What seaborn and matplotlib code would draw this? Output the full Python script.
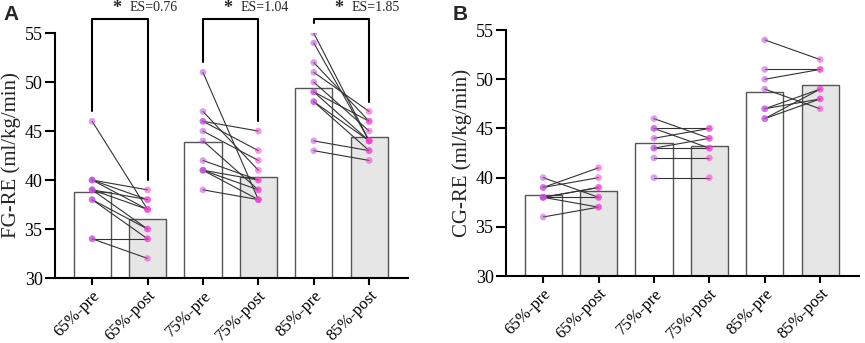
import numpy as np
import pandas as pd
import matplotlib
matplotlib.use('Agg')
import matplotlib.pyplot as plt
import seaborn as sns

sns.set_theme(style='ticks')
plt.rcParams['font.family'] = ['Liberation Serif', 'DejaVu Serif']

CONDITIONS = ['65%-pre', '65%-post', '75%-pre', '75%-post', '85%-pre', '85%-post']

# FG group: running economy per participant (pre / post), paired by position
fg_65_pre = [46, 40, 40, 40, 39, 39, 39, 38, 38, 34, 34]
fg_65_post = [37, 38, 37, 39, 38, 37, 35, 35, 34, 34, 32]
fg_75_pre = [51, 47, 46, 46, 45, 44, 42, 41, 41, 41, 39]
fg_75_post = [38, 41, 45, 43, 42, 39, 40, 38, 40, 39, 38]
fg_85_pre = [55, 54, 52, 51, 50, 49, 49, 48, 48, 44, 43]
fg_85_post = [44, 44, 46, 47, 45, 46, 44, 44, 43, 43, 42]
fg_es = ['0.76', '1.04', '1.85']

# CG group
cg_65_pre = [40, 39, 39, 38, 38, 38, 38, 36]
cg_65_post = [38, 41, 40, 39, 37, 39, 38, 37]
cg_75_pre = [46, 45, 45, 44, 43, 43, 42, 40]
cg_75_post = [44, 45, 43, 45, 44, 43, 42, 40]
cg_85_pre = [54, 51, 50, 49, 47, 47, 46, 46]
cg_85_post = [52, 51, 51, 47, 49, 48, 49, 48]

BAR_FILL = {c: ('white' if c.endswith('pre') else '#e6e6e6') for c in CONDITIONS}
POINT_COL = {c: ('#c24fdc' if c.endswith('pre') else '#f43fd2') for c in CONDITIONS}


def draw_panel(ax, pairs, ylabel, es=None):
    rows = []
    for k, (pre, post) in enumerate(pairs):
        rows += [(CONDITIONS[2 * k], v) for v in pre]
        rows += [(CONDITIONS[2 * k + 1], v) for v in post]
    df = pd.DataFrame(rows, columns=['cond', 'value'])

    sns.barplot(data=df, x='cond', y='value', order=CONDITIONS, hue='cond',
                hue_order=CONDITIONS, palette=BAR_FILL, errorbar=None,
                width=0.67, edgecolor='#555555', linewidth=1.0, legend=False, ax=ax)

    # paired lines
    for k, (pre, post) in enumerate(pairs):
        for a, b in zip(pre, post):
            ax.plot([2 * k, 2 * k + 1], [a, b], color='#333333', lw=0.8, zorder=3)

    sns.stripplot(data=df, x='cond', y='value', order=CONDITIONS, hue='cond',
                  hue_order=CONDITIONS, palette=POINT_COL, jitter=False, size=4.8,
                  alpha=0.55, linewidth=0, legend=False, zorder=4, ax=ax)

    ax.set_xlim(-0.67, 5.7)
    ax.set_ylim(30, 55)
    ax.set_yticks([30, 35, 40, 45, 50, 55])
    ax.set_xticks(range(len(CONDITIONS)))
    ax.set_xticklabels(CONDITIONS, rotation=45, ha='right', rotation_mode='anchor')
    ax.tick_params(axis='y', labelsize=13, width=1.5, length=7, colors='black', pad=2)
    ax.tick_params(axis='x', labelsize=12, width=1.5, length=5, colors='black', pad=2)
    ax.set_xlabel('')
    ax.set_ylabel(ylabel, fontsize=15)
    ax.yaxis.set_label_coords(-0.095, 0.5)
    sns.despine(ax=ax)
    for side in ['left', 'bottom']:
        ax.spines[side].set_linewidth(1.5)
        ax.spines[side].set_color('black')

    if es is not None:
        top = 56.4
        for k, (pre, post) in enumerate(pairs):
            x0, x1 = 2 * k, 2 * k + 1
            ax.plot([x0, x0, x1, x1], [max(pre) + 1, top, top, max(post) + 1],
                    color='black', lw=1.5, clip_on=False)
            ax.text(x0 + 0.45, top + 0.25, '*', ha='center', va='bottom',
                    fontsize=13, fontweight='bold', clip_on=False)
            ax.text(x0 + 0.68, top + 0.5, f'ES={es[k]}', ha='left', va='bottom',
                    fontsize=10, clip_on=False)


fig = plt.figure(figsize=(8.65, 3.43), dpi=100)
ax_a = fig.add_axes([0.0636, 0.1895, 0.408, 0.714])
ax_b = fig.add_axes([0.585, 0.1953, 0.408, 0.717])

draw_panel(ax_a, [(fg_65_pre, fg_65_post), (fg_75_pre, fg_75_post), (fg_85_pre, fg_85_post)],
           'FG-RE (ml/kg/min)', es=fg_es)
draw_panel(ax_b, [(cg_65_pre, cg_65_post), (cg_75_pre, cg_75_post), (cg_85_pre, cg_85_post)],
           'CG-RE (ml/kg/min)')

fig.text(0.004, 0.985, 'A', fontsize=15, fontweight='bold', family='Liberation Sans', va='top')
fig.text(0.523, 0.985, 'B', fontsize=15, fontweight='bold', family='Liberation Sans', va='top')

fig.savefig('out.png', dpi=100)
